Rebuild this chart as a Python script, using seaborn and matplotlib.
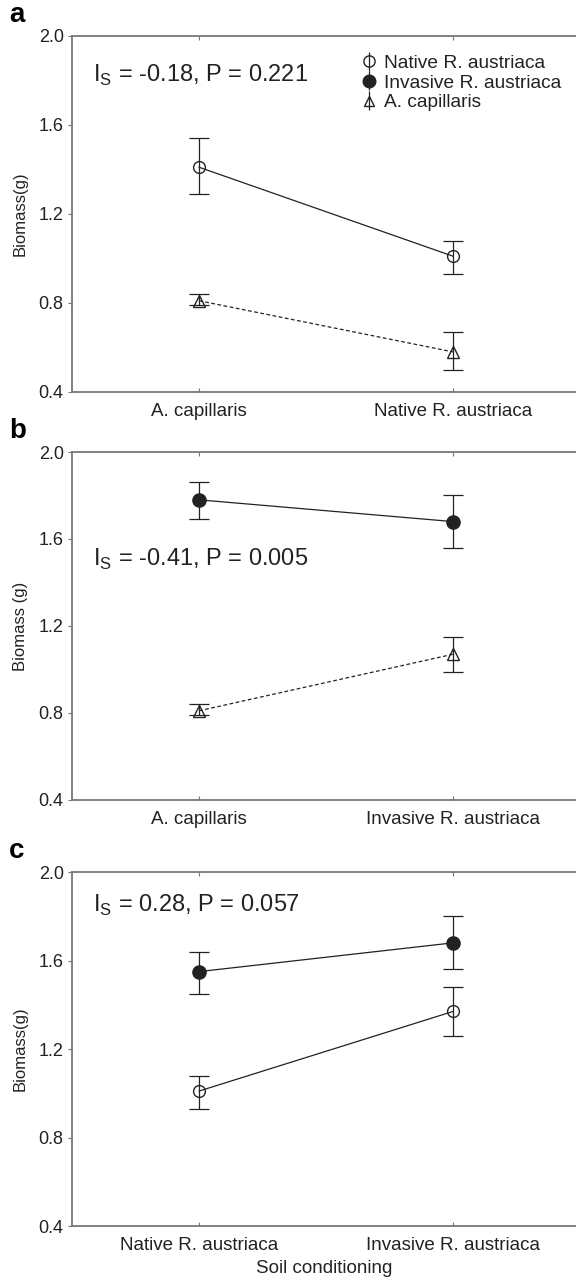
import matplotlib.pyplot as plt
import numpy as np
import pandas as pd
import seaborn as sns

# soil-conditioning categories (x axis) of each panel
soil_a = ["A. capillaris", "Native R. austriaca"]
soil_b = ["A. capillaris", "Invasive R. austriaca"]
soil_c = ["Native R. austriaca", "Invasive R. austriaca"]

# panel a: biomass means and error-bar bounds
native_a = [1.41, 1.01]
native_a_lo = [1.29, 0.93]
native_a_hi = [1.54, 1.08]
capillaris_a = [0.81, 0.58]
capillaris_a_lo = [0.79, 0.50]
capillaris_a_hi = [0.84, 0.67]

# panel b
invasive_b = [1.78, 1.68]
invasive_b_lo = [1.69, 1.56]
invasive_b_hi = [1.86, 1.80]
capillaris_b = [0.81, 1.07]
capillaris_b_lo = [0.79, 0.99]
capillaris_b_hi = [0.84, 1.15]

# panel c
invasive_c = [1.55, 1.68]
invasive_c_lo = [1.45, 1.56]
invasive_c_hi = [1.64, 1.80]
native_c = [1.01, 1.37]
native_c_lo = [0.93, 1.26]
native_c_hi = [1.08, 1.48]

stats_a = "-0.18, P = 0.221"
stats_b = "-0.41, P = 0.005"
stats_c = "0.28, P = 0.057"

yticks = [0.4, 0.8, 1.2, 1.6, 2.0]

sns.set_style("ticks")
plt.rcParams["font.family"] = ["Liberation Sans", "DejaVu Sans"]
plt.rcParams["mathtext.fontset"] = "custom"
plt.rcParams["mathtext.rm"] = "Liberation Sans"

INK = "#222222"
SPINE = "#777777"
STYLES = {
    "Native R. austriaca": dict(marker="o", markerfacecolor="none", markersize=8.5, linestyle="-"),
    "Invasive R. austriaca": dict(marker="o", markerfacecolor=INK, markersize=9.5, linestyle="-"),
    "A. capillaris": dict(marker="^", markerfacecolor="none", markersize=8, linestyle=(0, (3, 2))),
}


def draw_panel(ax, cats, series, stats, ylabel, letter, stats_y):
    x = np.arange(len(cats))
    for name, mean, lo, hi in series:
        st = STYLES[name]
        df = pd.DataFrame({"x": x, "y": mean})
        sns.lineplot(data=df, x="x", y="y", ax=ax, color=INK, linewidth=0.9,
                     linestyle=st["linestyle"], marker=st["marker"],
                     markersize=st["markersize"], markerfacecolor=st["markerfacecolor"],
                     markeredgecolor=INK, markeredgewidth=1.0, sort=False)
        yerr = [np.subtract(mean, lo), np.subtract(hi, mean)]
        ax.errorbar(x, mean, yerr=yerr, fmt="none", ecolor=INK, elinewidth=0.9,
                    capsize=7.2, capthick=0.9)
    ax.set_xlim(-0.5, 1.484)
    ax.set_ylim(0.4, 2.0)
    ax.set_xticks(x)
    ax.set_xticklabels(cats, fontsize=13.5, color=INK)
    ax.set_yticks(yticks)
    ax.set_yticklabels([f"{v:.1f}" for v in yticks], fontsize=13, color=INK)
    ax.tick_params(axis="x", direction="in", length=3, top=True, color=SPINE, pad=8)
    ax.tick_params(axis="y", direction="out", length=3, color=SPINE, pad=3)
    ax.set_xlabel("")
    ax.set_ylabel(ylabel, fontsize=12, color=INK, labelpad=8)
    for side in ["left", "bottom", "top"]:
        ax.spines[side].set_color(SPINE)
        ax.spines[side].set_linewidth(1.3)
    ax.spines["right"].set_visible(False)
    ax.text(0.042, stats_y, r"I$_{\mathrm{S}}$ = " + stats, transform=ax.transAxes,
            fontsize=17, color=INK, va="center", ha="left")
    ax.text(-0.125, 1.06, letter, transform=ax.transAxes, fontsize=20,
            fontweight="bold", color="black", va="center", ha="left")


fig = plt.figure(figsize=(5.76, 12.83), dpi=100)
ax_a = fig.add_axes([0.125, 0.6945, 0.875, 0.2775])
ax_b = fig.add_axes([0.125, 0.3765, 0.875, 0.2712])
ax_c = fig.add_axes([0.125, 0.0444, 0.875, 0.2759])

draw_panel(ax_a, soil_a,
           [("Native R. austriaca", native_a, native_a_lo, native_a_hi),
            ("A. capillaris", capillaris_a, capillaris_a_lo, capillaris_a_hi)],
           stats_a, "Biomass(g)", "a", 0.89)
draw_panel(ax_b, soil_b,
           [("Invasive R. austriaca", invasive_b, invasive_b_lo, invasive_b_hi),
            ("A. capillaris", capillaris_b, capillaris_b_lo, capillaris_b_hi)],
           stats_b, "Biomass (g)", "b", 0.69)
draw_panel(ax_c, soil_c,
           [("Invasive R. austriaca", invasive_c, invasive_c_lo, invasive_c_hi),
            ("Native R. austriaca", native_c, native_c_lo, native_c_hi)],
           stats_c, "Biomass(g)", "c", 0.905)

ax_c.set_xlabel("Soil conditioning", fontsize=13.5, color=INK, labelpad=4)

# legend in panel a: marker with error bar, no connecting line
handles = []
labels = ["Native R. austriaca", "Invasive R. austriaca", "A. capillaris"]
for name in labels:
    st = STYLES[name]
    h = ax_a.errorbar([], [], yerr=[], fmt=st["marker"], color=INK,
                      markersize=st["markersize"] * 0.95, markerfacecolor=st["markerfacecolor"],
                      markeredgecolor=INK, elinewidth=0.9, capsize=6, capthick=0.9)
    handles.append(h)
ax_a.legend(handles, labels, loc="upper left", bbox_to_anchor=(0.553, 0.975),
            frameon=False, fontsize=13.8, handlelength=0.9, handletextpad=0.35,
            labelspacing=0.12, borderpad=0, labelcolor=INK)

fig.savefig("out.png", dpi=100)
